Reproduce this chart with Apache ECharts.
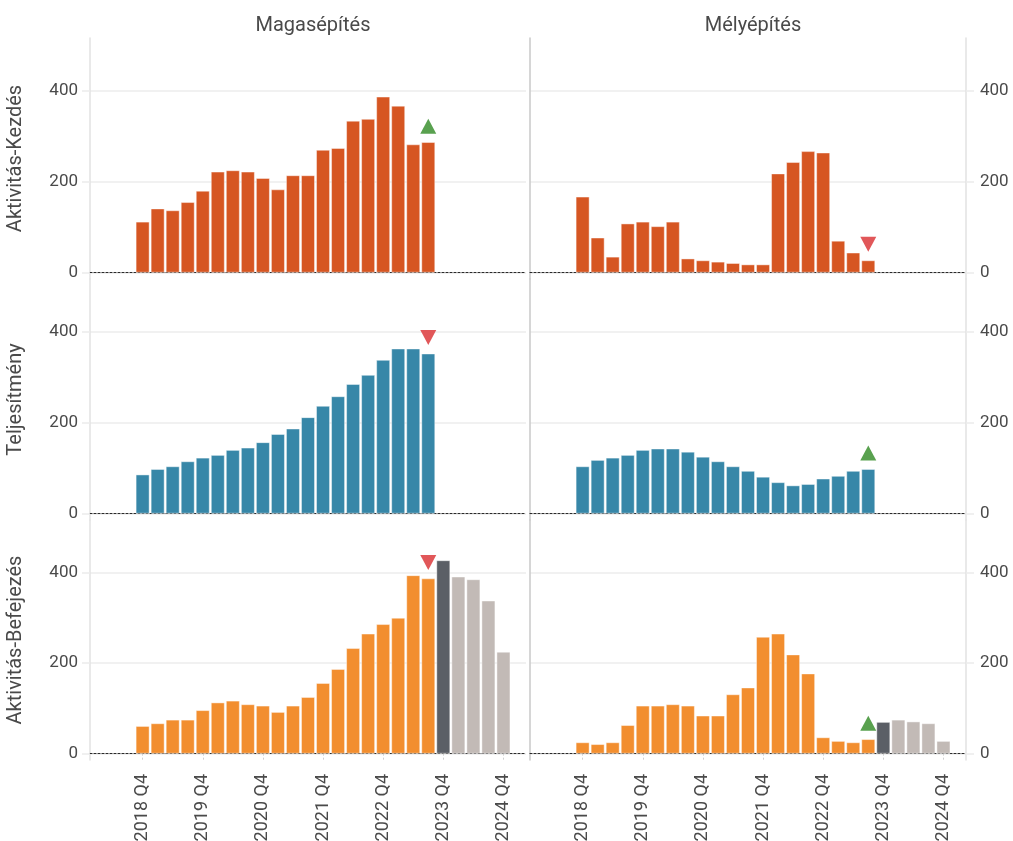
<!DOCTYPE html>
<html>
<head>
<meta charset="utf-8">
<script src="https://cdn.jsdelivr.net/npm/echarts@6/dist/echarts.min.js"></script>
<style>html,body{margin:0;padding:0;background:#fff;}#c{width:1013px;height:841px;}</style>
</head>
<body>
<div id="c"></div>
<script>
const categories = ['2018 Q1','2018 Q2','2018 Q3','2018 Q4','2019 Q1','2019 Q2','2019 Q3','2019 Q4',
  '2020 Q1','2020 Q2','2020 Q3','2020 Q4','2021 Q1','2021 Q2','2021 Q3','2021 Q4',
  '2022 Q1','2022 Q2','2022 Q3','2022 Q4','2023 Q1','2023 Q2','2023 Q3','2023 Q4',
  '2024 Q1','2024 Q2','2024 Q3','2024 Q4','2025 Q1'];
const startCategory = '2018 Q4';
const columnTitles = ['Magasépítés', 'Mélyépítés'];
const rowTitles = ['Aktivitás-Kezdés', 'Teljesítmény', 'Aktivitás-Befejezés'];
const yTicks = [0, 200, 400];

// Row 1: Aktivitás-Kezdés
const magasKezdes = [112,141,137,155,180,222,225,222,208,183,214,214,270,274,334,338,387,367,282,287];
const melyKezdes  = [167,77,35,108,112,102,112,31,27,24,21,18,18,218,243,267,264,70,44,27];
// Row 2: Teljesítmény
const magasTelj = [86,98,104,115,123,129,140,145,157,175,187,212,237,258,285,305,338,363,363,352];
const melyTelj  = [104,118,123,129,140,143,143,136,125,115,104,94,81,69,62,65,77,83,94,98];
// Row 3: Aktivitás-Befejezés (actual, current estimate, forecast)
const magasBef      = [61,67,75,75,96,113,117,109,106,92,106,125,156,187,233,265,286,300,394,387];
const magasBefEst   = [427];
const magasBefFc    = [391,385,338,225];
const melyBef       = [25,21,25,63,106,106,109,106,84,84,131,146,258,265,219,177,36,28,25,32];
const melyBefEst    = [70];
const melyBefFc     = [75,71,67,28];
// change markers on last actual quarter: 'up' / 'down'
const markerDirs = [['up','down'], ['down','up'], ['down','up']];

const rowColors = ['#d65622', '#3787a8', '#f28e2f'];
const estColor = '#5b5f66';
const fcColor = '#c2bab6';
const upColor = '#59a14f';
const downColor = '#e15759';
const textColor = '#4a4a4a';

const startIdx = categories.indexOf(startCategory);
function pad(arr, offset) {
  const out = categories.map(() => null);
  arr.forEach((v, i) => { out[offset + i] = v; });
  return out;
}

const rowData = [
  [{main: magasKezdes}, {main: melyKezdes}],
  [{main: magasTelj}, {main: melyTelj}],
  [{main: magasBef, est: magasBefEst, fc: magasBefFc}, {main: melyBef, est: melyBefEst, fc: melyBefFc}]
];

const tops = [38, 279, 520];
const heights = [241, 241, 240];
const lefts = [90, 530];
const width = 436;
const yMin = -14, yMax = 516;

const grids = [], xAxes = [], yAxes = [], series = [];
let gi = 0;
for (let r = 0; r < 3; r++) {
  for (let c = 0; c < 2; c++) {
    grids.push({left: lefts[c], top: tops[r], width: width, height: heights[r],
      containLabel: false, outerBoundsMode: 'none'});
    const isBottom = r === 2;
    xAxes.push({
      type: 'category', gridIndex: gi, data: categories, boundaryGap: true,
      axisLine: {show: true, onZero: true, lineStyle: {color: '#2a2a2a', width: 1.2, type: [2, 2]}},
      axisTick: {show: isBottom, alignWithLabel: true, length: 8,
        interval: (i, v) => v.endsWith('Q4'),
        lineStyle: {color: '#d0d0d0', type: [2, 2]}},
      axisLabel: {show: isBottom, rotate: 90, margin: 14, fontSize: 18, color: textColor,
        fontFamily: 'Roboto', interval: (i, v) => v.endsWith('Q4')},
      splitLine: {show: false}
    });
    const yBase = {
      type: 'value', gridIndex: gi, min: yMin, max: yMax,
      splitLine: {show: true, lineStyle: {color: '#ececec', width: 1.5}},
    };
    let yIdx;
    if (c === 0) {
      yAxes.push(Object.assign({}, yBase, {
        position: 'left',
        name: rowTitles[r], nameLocation: 'middle', nameGap: 64,
        nameTextStyle: {fontSize: 20, color: textColor, fontFamily: 'Roboto'},
        axisLine: {show: true, lineStyle: {color: '#e2e2e2', width: 1.5}},
        axisTick: {show: true, length: 8, customValues: yTicks, lineStyle: {color: '#ececec', width: 1.5}},
        axisLabel: {show: true, customValues: yTicks, margin: 12, fontSize: 17, color: textColor, fontFamily: 'Roboto'}
      }));
      yIdx = yAxes.length - 1;
    } else {
      yAxes.push(Object.assign({}, yBase, {
        position: 'left',
        axisLine: {show: true, lineStyle: {color: '#c8c8c8', width: 1.5}},
        axisTick: {show: false, customValues: yTicks},
        axisLabel: {show: false, customValues: yTicks}
      }));
      yIdx = yAxes.length - 1;
      yAxes.push(Object.assign({}, yBase, {
        position: 'right',
        splitLine: {show: false},
        axisLine: {show: true, lineStyle: {color: '#e2e2e2', width: 1.5}},
        axisTick: {show: true, length: 8, customValues: yTicks, lineStyle: {color: '#ececec', width: 1.5}},
        axisLabel: {show: true, customValues: yTicks, margin: 14, fontSize: 17, color: textColor, fontFamily: 'Roboto'}
      }));
    }
    const d = rowData[r][c];
    const barCommon = {
      type: 'bar', xAxisIndex: gi, yAxisIndex: yIdx, barWidth: '92%', barGap: '-100%', z: 2,
      animation: false
    };
    series.push(Object.assign({}, barCommon, {
      data: pad(d.main, startIdx),
      itemStyle: {color: rowColors[r], borderColor: 'rgba(255,255,255,0.55)', borderWidth: 0.8}
    }));
    if (d.est) {
      series.push(Object.assign({}, barCommon, {
        data: pad(d.est, startIdx + d.main.length),
        itemStyle: {color: estColor, borderColor: 'rgba(255,255,255,0.55)', borderWidth: 0.8}
      }));
      series.push(Object.assign({}, barCommon, {
        data: pad(d.fc, startIdx + d.main.length + d.est.length),
        itemStyle: {color: fcColor, borderColor: 'rgba(255,255,255,0.55)', borderWidth: 0.8}
      }));
    }
    const lastI = d.main.length - 1;
    const dir = markerDirs[r][c];
    series.push({
      type: 'scatter', xAxisIndex: gi, yAxisIndex: yIdx, z: 5, animation: false,
      symbol: 'triangle', symbolSize: [16, 15],
      symbolRotate: dir === 'up' ? 0 : 180,
      symbolOffset: [0, -16],
      itemStyle: {color: dir === 'up' ? upColor : downColor, opacity: 1},
      data: [[categories[startIdx + lastI], d.main[lastI]]]
    });
    gi++;
  }
}

const option = {
  backgroundColor: '#fff',
  animation: false,
  title: columnTitles.map((t, i) => ({
    text: t, left: lefts[i] + width / 2, top: 11, textAlign: 'center',
    textStyle: {fontSize: 20, fontWeight: 'normal', color: textColor, fontFamily: 'Roboto'}
  })),
  grid: grids, xAxis: xAxes, yAxis: yAxes, series: series
};
const chart = echarts.init(document.getElementById('c'), null, {renderer: 'canvas'});
chart.setOption(option);
</script>
</body>
</html>
